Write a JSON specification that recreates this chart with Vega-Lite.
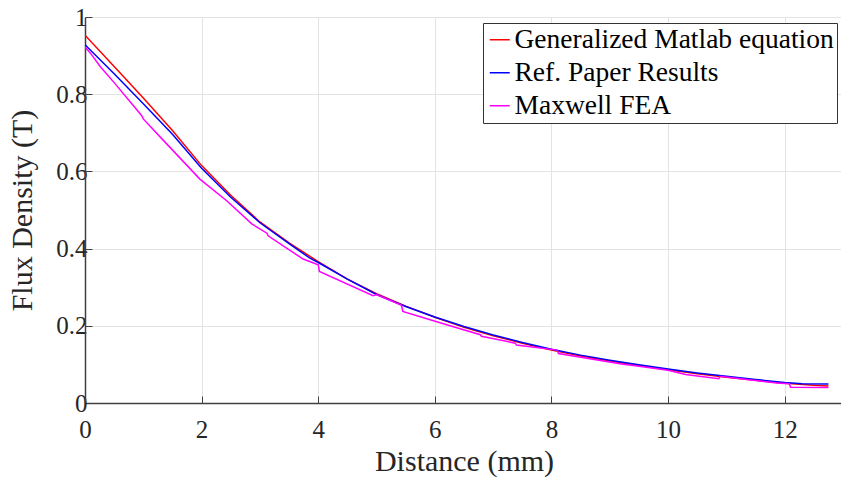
{
  "$schema": "https://vega.github.io/schema/vega-lite/v6.json",
  "autosize": "none",
  "width": 758,
  "height": 386,
  "padding": {"left": 85, "top": 17, "right": 0, "bottom": 78},
  "background": "white",
  "config": {
    "view": {"stroke": null},
    "font": "Liberation Serif",
    "style": {"guide-label": {"font": "Liberation Serif"}}
  },
  "data": {
    "values": [
      {"x": 0, "y": 0.953, "s": "Generalized Matlab equation"},
      {"x": 0.5, "y": 0.872, "s": "Generalized Matlab equation"},
      {"x": 1, "y": 0.790, "s": "Generalized Matlab equation"},
      {"x": 1.5, "y": 0.706, "s": "Generalized Matlab equation"},
      {"x": 2, "y": 0.615, "s": "Generalized Matlab equation"},
      {"x": 2.5, "y": 0.538, "s": "Generalized Matlab equation"},
      {"x": 3, "y": 0.469, "s": "Generalized Matlab equation"},
      {"x": 3.5, "y": 0.415, "s": "Generalized Matlab equation"},
      {"x": 4, "y": 0.366, "s": "Generalized Matlab equation"},
      {"x": 4.5, "y": 0.321, "s": "Generalized Matlab equation"},
      {"x": 5, "y": 0.283, "s": "Generalized Matlab equation"},
      {"x": 5.5, "y": 0.251, "s": "Generalized Matlab equation"},
      {"x": 6, "y": 0.222, "s": "Generalized Matlab equation"},
      {"x": 6.5, "y": 0.196, "s": "Generalized Matlab equation"},
      {"x": 7, "y": 0.174, "s": "Generalized Matlab equation"},
      {"x": 7.5, "y": 0.155, "s": "Generalized Matlab equation"},
      {"x": 8, "y": 0.137, "s": "Generalized Matlab equation"},
      {"x": 8.5, "y": 0.122, "s": "Generalized Matlab equation"},
      {"x": 9, "y": 0.109, "s": "Generalized Matlab equation"},
      {"x": 9.5, "y": 0.097, "s": "Generalized Matlab equation"},
      {"x": 10, "y": 0.086, "s": "Generalized Matlab equation"},
      {"x": 10.5, "y": 0.076, "s": "Generalized Matlab equation"},
      {"x": 11, "y": 0.067, "s": "Generalized Matlab equation"},
      {"x": 11.5, "y": 0.059, "s": "Generalized Matlab equation"},
      {"x": 12, "y": 0.051, "s": "Generalized Matlab equation"},
      {"x": 12.5, "y": 0.046, "s": "Generalized Matlab equation"},
      {"x": 12.75, "y": 0.044, "s": "Generalized Matlab equation"},

      {"x": 0, "y": 0.928, "s": "Ref. Paper Results"},
      {"x": 0.5, "y": 0.853, "s": "Ref. Paper Results"},
      {"x": 1, "y": 0.775, "s": "Ref. Paper Results"},
      {"x": 1.5, "y": 0.696, "s": "Ref. Paper Results"},
      {"x": 2, "y": 0.608, "s": "Ref. Paper Results"},
      {"x": 2.5, "y": 0.533, "s": "Ref. Paper Results"},
      {"x": 3, "y": 0.467, "s": "Ref. Paper Results"},
      {"x": 3.5, "y": 0.413, "s": "Ref. Paper Results"},
      {"x": 3.85, "y": 0.376, "s": "Ref. Paper Results"},
      {"x": 4, "y": 0.364, "s": "Ref. Paper Results"},
      {"x": 4.5, "y": 0.321, "s": "Ref. Paper Results"},
      {"x": 5, "y": 0.281, "s": "Ref. Paper Results"},
      {"x": 5.5, "y": 0.250, "s": "Ref. Paper Results"},
      {"x": 6, "y": 0.223, "s": "Ref. Paper Results"},
      {"x": 6.5, "y": 0.198, "s": "Ref. Paper Results"},
      {"x": 7, "y": 0.176, "s": "Ref. Paper Results"},
      {"x": 7.5, "y": 0.157, "s": "Ref. Paper Results"},
      {"x": 8, "y": 0.139, "s": "Ref. Paper Results"},
      {"x": 8.5, "y": 0.124, "s": "Ref. Paper Results"},
      {"x": 9, "y": 0.111, "s": "Ref. Paper Results"},
      {"x": 9.5, "y": 0.099, "s": "Ref. Paper Results"},
      {"x": 10, "y": 0.088, "s": "Ref. Paper Results"},
      {"x": 10.5, "y": 0.078, "s": "Ref. Paper Results"},
      {"x": 11, "y": 0.069, "s": "Ref. Paper Results"},
      {"x": 11.5, "y": 0.061, "s": "Ref. Paper Results"},
      {"x": 12, "y": 0.053, "s": "Ref. Paper Results"},
      {"x": 12.3, "y": 0.050, "s": "Ref. Paper Results"},
      {"x": 12.75, "y": 0.049, "s": "Ref. Paper Results"},

      {"x": 0, "y": 0.923, "s": "Maxwell FEA"},
      {"x": 0.1, "y": 0.905, "s": "Maxwell FEA"},
      {"x": 0.26, "y": 0.872, "s": "Maxwell FEA"},
      {"x": 0.5, "y": 0.830, "s": "Maxwell FEA"},
      {"x": 0.97, "y": 0.745, "s": "Maxwell FEA"},
      {"x": 1.0, "y": 0.736, "s": "Maxwell FEA"},
      {"x": 1.34, "y": 0.681, "s": "Maxwell FEA"},
      {"x": 1.97, "y": 0.580, "s": "Maxwell FEA"},
      {"x": 2.43, "y": 0.524, "s": "Maxwell FEA"},
      {"x": 2.86, "y": 0.464, "s": "Maxwell FEA"},
      {"x": 3.12, "y": 0.440, "s": "Maxwell FEA"},
      {"x": 3.14, "y": 0.433, "s": "Maxwell FEA"},
      {"x": 3.74, "y": 0.373, "s": "Maxwell FEA"},
      {"x": 4.0, "y": 0.358, "s": "Maxwell FEA"},
      {"x": 4.02, "y": 0.341, "s": "Maxwell FEA"},
      {"x": 4.94, "y": 0.278, "s": "Maxwell FEA"},
      {"x": 5.0, "y": 0.281, "s": "Maxwell FEA"},
      {"x": 5.43, "y": 0.253, "s": "Maxwell FEA"},
      {"x": 5.45, "y": 0.237, "s": "Maxwell FEA"},
      {"x": 6.09, "y": 0.208, "s": "Maxwell FEA"},
      {"x": 6.26, "y": 0.200, "s": "Maxwell FEA"},
      {"x": 6.78, "y": 0.177, "s": "Maxwell FEA"},
      {"x": 6.8, "y": 0.173, "s": "Maxwell FEA"},
      {"x": 7.38, "y": 0.155, "s": "Maxwell FEA"},
      {"x": 7.4, "y": 0.150, "s": "Maxwell FEA"},
      {"x": 8.1, "y": 0.137, "s": "Maxwell FEA"},
      {"x": 8.12, "y": 0.128, "s": "Maxwell FEA"},
      {"x": 9.2, "y": 0.101, "s": "Maxwell FEA"},
      {"x": 9.5, "y": 0.095, "s": "Maxwell FEA"},
      {"x": 10, "y": 0.085, "s": "Maxwell FEA"},
      {"x": 10.3, "y": 0.074, "s": "Maxwell FEA"},
      {"x": 10.87, "y": 0.063, "s": "Maxwell FEA"},
      {"x": 10.89, "y": 0.069, "s": "Maxwell FEA"},
      {"x": 11.86, "y": 0.052, "s": "Maxwell FEA"},
      {"x": 12.08, "y": 0.050, "s": "Maxwell FEA"},
      {"x": 12.1, "y": 0.041, "s": "Maxwell FEA"},
      {"x": 12.75, "y": 0.040, "s": "Maxwell FEA"}
    ]
  },
  "mark": {"type": "line", "strokeWidth": 1.5, "clip": true},
  "encoding": {
    "x": {
      "field": "x",
      "type": "quantitative",
      "scale": {"domain": [0, 13], "nice": false, "zero": false},
      "axis": {
        "values": [0, 2, 4, 6, 8, 10, 12],
        "format": "~g",
        "title": "Distance (mm)",
        "labelFont": "Liberation Serif",
        "labelFontSize": 25,
        "labelColor": "#262626",
        "labelPadding": 21,
        "labelFlush": false,
        "titleFont": "Liberation Serif",
        "titleFontSize": 30,
        "titleFontWeight": "normal",
        "titleColor": "#262626",
        "titlePadding": 4,
        "domainColor": "#404040",
        "domainWidth": 1.5,
        "tickColor": "#404040",
        "tickSize": -7,
        "gridColor": "#e3e3e3"
      }
    },
    "y": {
      "field": "y",
      "type": "quantitative",
      "scale": {"domain": [0, 1], "nice": false},
      "axis": {
        "values": [0, 0.2, 0.4, 0.6, 0.8, 1],
        "format": "~g",
        "title": "Flux Density (T)",
        "labelFont": "Liberation Serif",
        "labelFontSize": 25,
        "labelColor": "#262626",
        "labelPadding": 5,
        "labelFlush": false,
        "titleFont": "Liberation Serif",
        "titleFontSize": 30,
        "titleFontWeight": "normal",
        "titleColor": "#262626",
        "titlePadding": 18,
        "domainColor": "#404040",
        "domainWidth": 1.5,
        "tickColor": "#404040",
        "tickSize": -7,
        "gridColor": "#e3e3e3"
      }
    },
    "color": {
      "field": "s",
      "type": "nominal",
      "sort": ["Generalized Matlab equation", "Ref. Paper Results", "Maxwell FEA"],
      "scale": {
        "domain": ["Generalized Matlab equation", "Ref. Paper Results", "Maxwell FEA"],
        "range": ["#ff0000", "#0000ff", "#ff00ff"]
      },
      "legend": {
        "title": null,
        "orient": "none",
        "legendX": 398,
        "legendY": 6,
        "fillColor": "white",
        "strokeColor": "#333333",
        "padding": 3,
        "labelFont": "Liberation Serif",
        "labelFontSize": 27.5,
        "labelColor": "#000000",
        "labelOffset": 1,
        "labelLimit": 400,
        "symbolType": "stroke",
        "symbolSize": 400,
        "symbolStrokeWidth": 1.5,
        "rowPadding": 4
      }
    }
  }
}
